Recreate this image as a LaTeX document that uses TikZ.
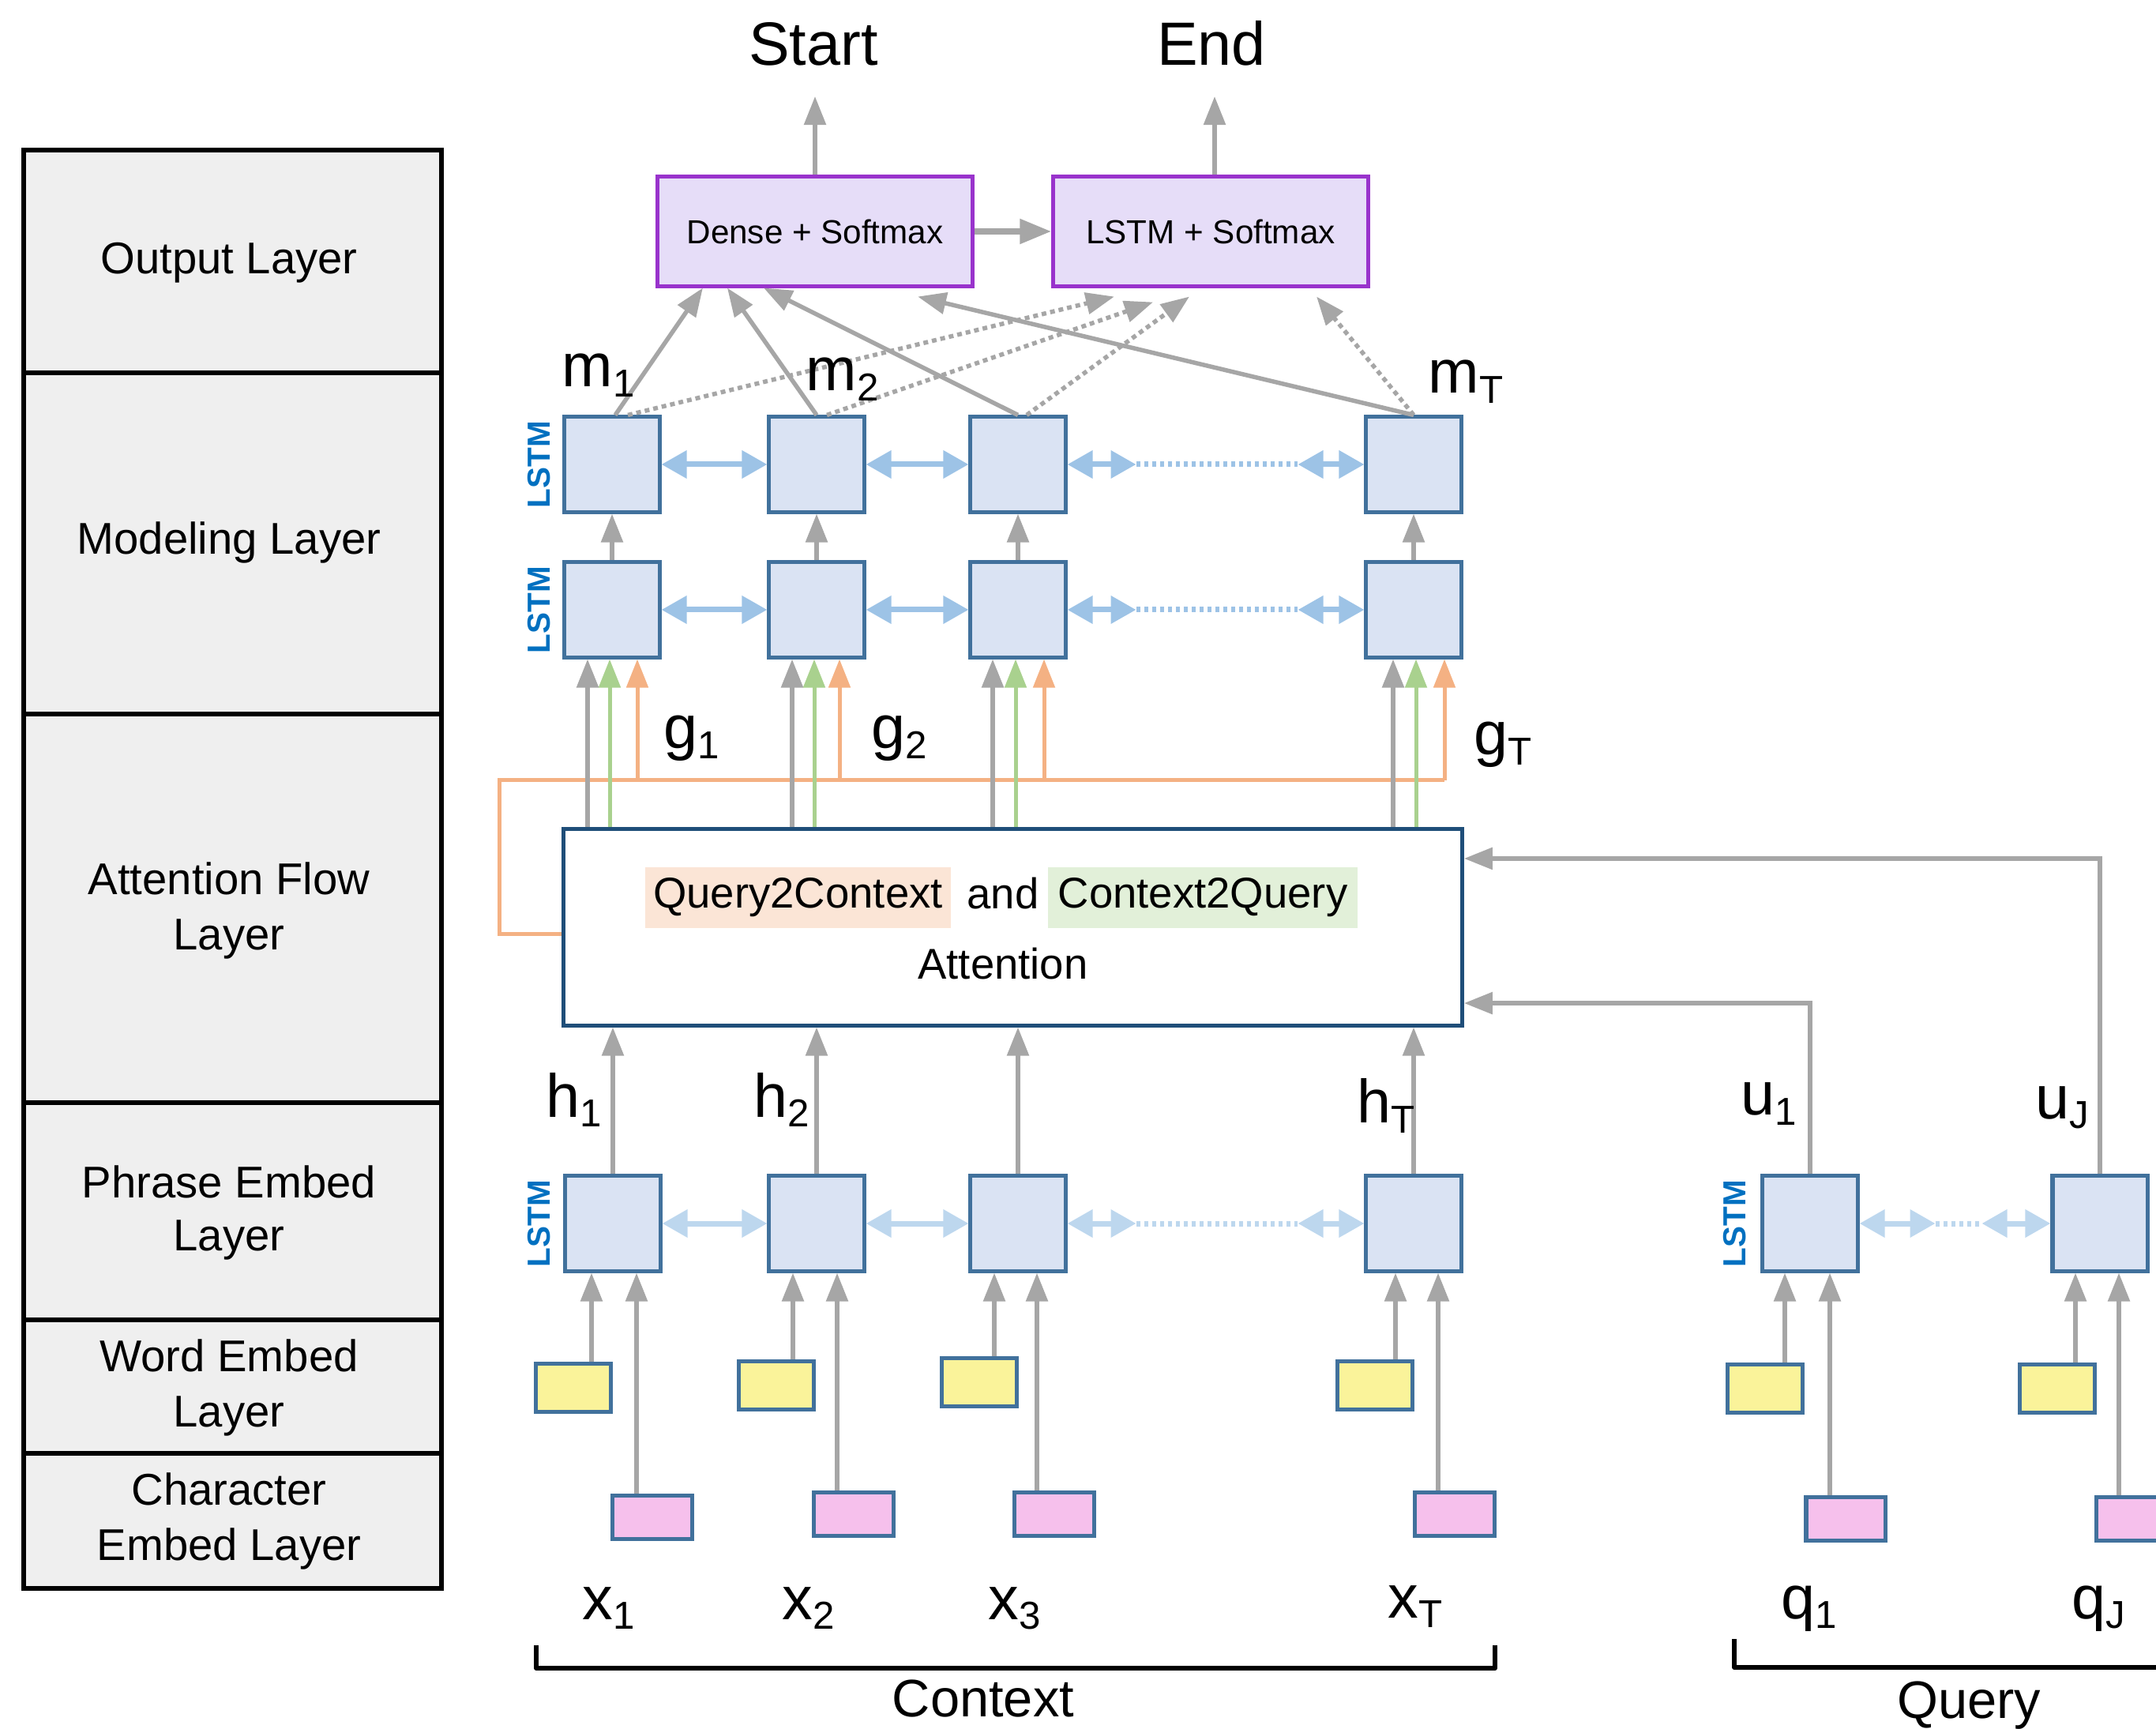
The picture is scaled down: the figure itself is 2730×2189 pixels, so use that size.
\documentclass[tikz,border=0pt]{standalone}
\usepackage{fontspec}
\setmainfont{Liberation Sans}
\usetikzlibrary{arrows.meta,calc}
\definecolor{boxblue}{HTML}{41719C}
\definecolor{boxfill}{HTML}{DAE3F3}
\definecolor{wfill}{HTML}{FAF39A}
\definecolor{cfill}{HTML}{F6C0EC}
\definecolor{arrgray}{HTML}{A6A6A6}
\definecolor{modblue}{HTML}{9DC3E6}
\definecolor{phrblue}{HTML}{BDD7EE}
\definecolor{oarrc}{HTML}{F4B183}
\definecolor{garrc}{HTML}{A9D18E}
\definecolor{attblue}{HTML}{1F4E79}
\definecolor{outpurple}{HTML}{9933CC}
\definecolor{outfill}{HTML}{E6DDF8}
\definecolor{panelfill}{HTML}{EFEFEF}
\definecolor{lstmblue}{HTML}{0070C0}
\definecolor{qcbg}{HTML}{FBE5D6}
\definecolor{cqbg}{HTML}{E2F0D9}
\newcommand\mysub[1]{\raisebox{-3.6pt}{\fontsize{14}{14}\selectfont #1}}
\tikzset{
  lstm/.style={draw=boxblue, fill=boxfill, line width=0.05cm, minimum width=1.2cm, minimum height=1.2cm, inner sep=0pt},
  wemb/.style={draw=boxblue, fill=wfill, line width=0.05cm, minimum width=0.95cm, minimum height=0.6cm, inner sep=0pt},
  cemb/.style={draw=boxblue, fill=cfill, line width=0.05cm, minimum width=1.0cm, minimum height=0.55cm, inner sep=0pt},
  outbox/.style={draw=outpurple, fill=outfill, line width=0.05cm, minimum width=3.98cm, minimum height=1.38cm, inner sep=0pt, font=\fontsize{12}{14}\selectfont},
  garr/.style={draw=arrgray, line width=0.055cm, -{Triangle[length=0.36cm,width=0.27cm]}},
  gdot/.style={garr, dash pattern=on 0.06cm off 0.05cm},
  oarr/.style={draw=oarrc, line width=0.05cm, -{Triangle[length=0.36cm,width=0.27cm]}},
  grarr/.style={draw=garrc, line width=0.05cm, -{Triangle[length=0.36cm,width=0.27cm]}},
  oline/.style={draw=oarrc, line width=0.05cm},
  bia/.style={draw=#1, line width=0.07cm, {Triangle[length=0.32cm,width=0.34cm]}-{Triangle[length=0.32cm,width=0.34cm]}},
  bdot/.style={draw=#1, line width=0.07cm, dash pattern=on 0.05cm off 0.05cm},
  lab/.style={inner sep=0pt, anchor=base west, font=\fontsize{22}{26}\selectfont},
  big/.style={inner sep=0pt, anchor=base, font=\fontsize{22}{26}\selectfont},
  bottomlab/.style={inner sep=0pt, anchor=base, font=\fontsize{19}{22}\selectfont},
  lstmlab/.style={rotate=90, text=lstmblue, font=\bfseries\fontsize{11.5}{12}\selectfont, inner sep=0pt},
  laytext/.style={inner sep=0pt, anchor=base, font=\fontsize{16}{20}\selectfont},
  attfont/.style={inner sep=0pt, font=\fontsize{15.5}{18}\selectfont},
  panelline/.style={draw=black, line width=0.055cm},
  brack/.style={draw=black, line width=0.06cm, line join=round},
}
\begin{document}
\begin{tikzpicture}[x=0.01cm,y=-0.01cm]
\useasboundingbox (0,0) rectangle (2730,2189);

% ---------- left layer panel ----------
\draw[panelline, fill=panelfill] (30,190) rectangle (559,2011);
\draw[panelline] (30,472) -- (559,472);
\draw[panelline] (30,904) -- (559,904);
\draw[panelline] (30,1396) -- (559,1396);
\draw[panelline] (30,1671) -- (559,1671);
\draw[panelline] (30,1840) -- (559,1840);
\node[laytext] (t1) at (290,347) {Output Layer};
\node[laytext] (t2) at (290,702) {Modeling Layer};
\node[laytext] (t3a) at (290,1133) {Attention Flow};
\node[laytext] (t3b) at (290,1203) {Layer};
\node[laytext] (t4a) at (290,1516) {Phrase Embed};
\node[laytext] (t4b) at (290,1583) {Layer};
\node[laytext] (t5a) at (290,1736) {Word Embed};
\node[laytext] (t5b) at (290,1806) {Layer};
\node[laytext] (t6a) at (290,1905) {Character};
\node[laytext] (t6b) at (290,1975) {Embed Layer};

% ---------- output layer ----------
\node[big] (start) at (1030,83) {Start};
\node[big] (end) at (1534,83) {End};
\node[outbox] (dense) at (1032,293) {Dense + Softmax};
\node[outbox] (lsoft) at (1533,293) {LSTM + Softmax};
\coordinate (stip) at (1032,122);
\coordinate (etip) at (1538,122);
\draw[garr] (dense.north) -- (dense.north |- stip);
\draw[garr] (lsoft.north -| etip) -- (etip);
\draw[draw=arrgray, line width=0.08cm, -{Triangle[length=0.4cm,width=0.3cm]}] (dense.east) -- (lsoft.west);

% ---------- modeling layer ----------
\node[lstm] (a1) at (775,588) {};
\node[lstm] (a2) at (1034,588) {};
\node[lstm] (a3) at (1289,588) {};
\node[lstm] (aT) at (1790,588) {};
\node[lstm] (b1) at (775,772) {};
\node[lstm] (b2) at (1034,772) {};
\node[lstm] (b3) at (1289,772) {};
\node[lstm] (bT) at (1790,772) {};
\node[lstmlab] (la) at (683,588) {LSTM};
\node[lstmlab] (lb) at (683,772) {LSTM};

\draw[bia=modblue] (a1.east) -- (a2.west);
\draw[bia=modblue] (a2.east) -- (a3.west);
\coordinate (ad1) at ($(a3.east)+(87,0)$);
\coordinate (ad2) at ($(aT.west)+(-84,0)$);
\draw[bia=modblue] (a3.east) -- (ad1);
\draw[bdot=modblue] (ad1) -- (ad2);
\draw[bia=modblue] (ad2) -- (aT.west);

\draw[bia=modblue] (b1.east) -- (b2.west);
\draw[bia=modblue] (b2.east) -- (b3.west);
\coordinate (bd1) at ($(b3.east)+(87,0)$);
\coordinate (bd2) at ($(bT.west)+(-84,0)$);
\draw[bia=modblue] (b3.east) -- (bd1);
\draw[bdot=modblue] (bd1) -- (bd2);
\draw[bia=modblue] (bd2) -- (bT.west);

\draw[garr] (b1.north) -- (a1.south);
\draw[garr] (b2.north) -- (a2.south);
\draw[garr] (b3.north) -- (a3.south);
\draw[garr] (bT.north) -- (aT.south);

% outputs of modeling layer
\draw[garr] ([xshift=0.04cm]a1.north) -- ([xshift=-1.42cm]dense.south);
\draw[garr] (a2.north) -- ([xshift=-1.11cm]dense.south);
\draw[garr] (a3.north) -- ([xshift=-0.65cm]dense.south);
\draw[garr] (aT.north) -- ([xshift=1.30cm,yshift=-0.11cm]dense.south);
\draw[gdot] ([xshift=0.2cm]a1.north) -- ([xshift=-1.22cm,yshift=-0.11cm]lsoft.south);
\draw[gdot] ([xshift=0.13cm]a2.north) -- ([xshift=-0.73cm,yshift=-0.18cm]lsoft.south);
\draw[gdot] ([xshift=0.11cm]a3.north) -- ([xshift=-0.27cm,yshift=-0.11cm]lsoft.south);
\draw[gdot] (aT.north) -- ([xshift=1.34cm,yshift=-0.11cm]lsoft.south);

\node[lab] (m1) at (711,490) {m\mysub{1}};
\node[lab] (m2) at (1020,495) {m\mysub{2}};
\node[lab] (mT) at (1808,498) {m\mysub{T}};

% ---------- attention flow layer ----------
\node[draw=attblue, line width=0.05cm, fill=white, minimum width=11.37cm, minimum height=2.48cm, inner sep=0pt] (att) at (1282.5,1174) {};
\node[attfont, fill=qcbg, minimum width=3.87cm, minimum height=0.77cm] (q2c) at (1010.5,1136.5) {Query2Context};
\node[attfont, fill=cqbg, minimum width=3.92cm, minimum height=0.77cm] (c2q) at (1523,1136.5) {Context2Query};
\node[attfont, anchor=base] (andw) at (1270,1151) {and};
\node[attfont, anchor=base] (attw) at (1270,1240) {Attention};

\coordinate (oc) at (632,988);
\draw[oline] ([yshift=-0.08cm]att.west) -| (oc) -- ($(bT.south |- oc)+(39,0)$);

\draw[garr] ($(b1.south |- att.north)+(-31,0)$) -- ($(b1.south)+(-31,0)$);
\draw[grarr] ($(b1.south |- att.north)+(-3,0)$) -- ($(b1.south)+(-3,0)$);
\draw[oarr] ($(b1.south |- oc)+(32,0)$) -- ($(b1.south)+(32,0)$);
\draw[garr] ($(b2.south |- att.north)+(-31,0)$) -- ($(b2.south)+(-31,0)$);
\draw[grarr] ($(b2.south |- att.north)+(-3,0)$) -- ($(b2.south)+(-3,0)$);
\draw[oarr] ($(b2.south |- oc)+(29,0)$) -- ($(b2.south)+(29,0)$);
\draw[garr] ($(b3.south |- att.north)+(-32,0)$) -- ($(b3.south)+(-32,0)$);
\draw[grarr] ($(b3.south |- att.north)+(-3,0)$) -- ($(b3.south)+(-3,0)$);
\draw[oarr] ($(b3.south |- oc)+(33,0)$) -- ($(b3.south)+(33,0)$);
\draw[garr] ($(bT.south |- att.north)+(-26,0)$) -- ($(bT.south)+(-26,0)$);
\draw[grarr] ($(bT.south |- att.north)+(3,0)$) -- ($(bT.south)+(3,0)$);
\draw[oarr] ($(bT.south |- oc)+(39,0)$) -- ($(bT.south)+(39,0)$);

\node[lab] (g1) at (840,948) {g\mysub{1}};
\node[lab] (g2) at (1103,948) {g\mysub{2}};
\node[lab] (gT) at (1866,956) {g\mysub{T}};

% ---------- phrase embed layer ----------
\node[lstm] (p1) at (776,1549) {};
\node[lstm] (p2) at (1034,1549) {};
\node[lstm] (p3) at (1289,1549) {};
\node[lstm] (pT) at (1790,1549) {};
\node[lstm] (pu1) at (2292,1549) {};
\node[lstm] (puJ) at (2659,1549) {};
\node[lstmlab] (lp) at (683,1549) {LSTM};
\node[lstmlab] (lq) at (2197,1549) {LSTM};

\draw[bia=phrblue] (p1.east) -- (p2.west);
\draw[bia=phrblue] (p2.east) -- (p3.west);
\coordinate (pd1) at ($(p3.east)+(87,0)$);
\coordinate (pd2) at ($(pT.west)+(-84,0)$);
\draw[bia=phrblue] (p3.east) -- (pd1);
\draw[bdot=phrblue] (pd1) -- (pd2);
\draw[bia=phrblue] (pd2) -- (pT.west);
\coordinate (qd1) at ($(pu1.east)+(96,0)$);
\coordinate (qd2) at ($(puJ.west)+(-87,0)$);
\draw[bia=phrblue] (pu1.east) -- (qd1);
\draw[bdot=phrblue] (qd1) -- (qd2);
\draw[bia=phrblue] (qd2) -- (puJ.west);

\draw[garr] (p1.north) -- (p1.north |- att.south);
\draw[garr] (p2.north) -- (p2.north |- att.south);
\draw[garr] (p3.north) -- (p3.north |- att.south);
\draw[garr] (pT.north) -- (pT.north |- att.south);
\draw[garr] (pu1.north) |- ([yshift=-0.96cm]att.east);
\draw[garr] (puJ.north) |- ([yshift=0.87cm]att.east);

\node[lab] (h1) at (691,1414) {h\mysub{1}};
\node[lab] (h2) at (954,1414) {h\mysub{2}};
\node[lab] (hT) at (1718,1422) {h\mysub{T}};
\node[lab] (u1) at (2204,1412) {u\mysub{1}};
\node[lab] (uJ) at (2577,1416) {u\mysub{J}};

% ---------- word embed layer ----------
\node[wemb] (w1) at (726,1757) {};
\node[wemb] (w2) at (983,1754) {};
\node[wemb] (w3) at (1240,1750) {};
\node[wemb] (wT) at (1741,1754) {};
\node[wemb] (wq1) at (2235,1758) {};
\node[wemb] (wqJ) at (2605,1758) {};

\coordinate (w1t) at ($(w1.north)+(23,0)$);
\coordinate (w2t) at ($(w2.north)+(21,0)$);
\coordinate (w3t) at ($(w3.north)+(19,0)$);
\coordinate (wTt) at ($(wT.north)+(26,0)$);
\coordinate (wq1t) at ($(wq1.north)+(25,0)$);
\coordinate (wqJt) at ($(wqJ.north)+(23,0)$);
\draw[garr] (w1t) -- (w1t |- p1.south);
\draw[garr] (w2t) -- (w2t |- p2.south);
\draw[garr] (w3t) -- (w3t |- p3.south);
\draw[garr] (wTt) -- (wTt |- pT.south);
\draw[garr] (wq1t) -- (wq1t |- pu1.south);
\draw[garr] (wqJt) -- (wqJt |- puJ.south);

% ---------- character embed layer ----------
\node[cemb] (c1) at (826,1921) {};
\node[cemb] (c2) at (1081,1917) {};
\node[cemb] (c3) at (1335,1917) {};
\node[cemb] (cT) at (1842,1917) {};
\node[cemb] (cq1) at (2337,1923) {};
\node[cemb] (cqJ) at (2704,1923) {};

\coordinate (c1t) at ($(c1.north)+(-20,0)$);
\coordinate (c2t) at ($(c2.north)+(-21,0)$);
\coordinate (c3t) at ($(c3.north)+(-22,0)$);
\coordinate (cTt) at ($(cT.north)+(-21,0)$);
\coordinate (cq1t) at ($(cq1.north)+(-20,0)$);
\coordinate (cqJt) at ($(cqJ.north)+(-21,0)$);
\draw[garr] (c1t) -- (c1t |- p1.south);
\draw[garr] (c2t) -- (c2t |- p2.south);
\draw[garr] (c3t) -- (c3t |- p3.south);
\draw[garr] (cTt) -- (cTt |- pT.south);
\draw[garr] (cq1t) -- (cq1t |- pu1.south);
\draw[garr] (cqJt) -- (cqJt |- puJ.south);

% ---------- inputs ----------
\node[lab] (x1) at (737,2050) {x\mysub{1}};
\node[lab] (x2) at (990,2050) {x\mysub{2}};
\node[lab] (x3) at (1251,2050) {x\mysub{3}};
\node[lab] (xT) at (1757,2048) {x\mysub{T}};
\node[lab] (q1) at (2255,2049) {q\mysub{1}};
\node[lab] (qJ) at (2623,2049) {q\mysub{J}};

\draw[brack] (679,2083) -- (679,2112) -- (1893,2112) -- (1893,2083);
\draw[brack] (2196,2075) -- (2196,2111) -- (2760,2111);
\node[bottomlab] (ctx) at (1245,2173) {Context};
\node[bottomlab] (qry) at (2493,2175) {Query};
\end{tikzpicture}
\end{document}
